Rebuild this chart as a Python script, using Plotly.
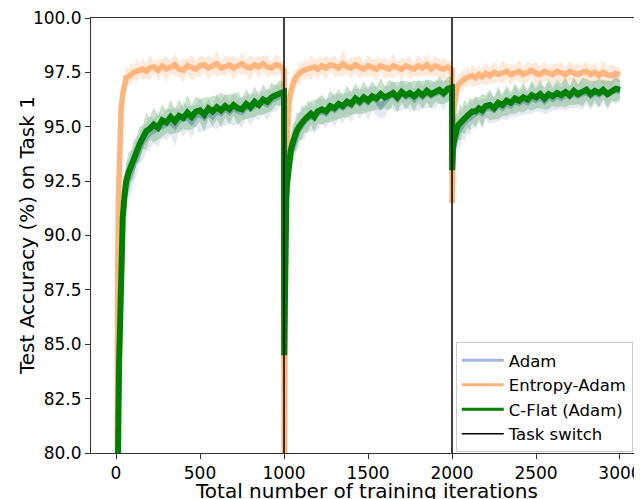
import plotly.graph_objects as go

# iteration offsets inside each task (task length 1000)
offsets = [1, 3, 6, 10, 14, 18, 24, 30, 40, 50,
           60, 75, 90, 105, 120, 140, 160, 180, 200, 225,
           250, 275, 300, 325, 350, 375, 400, 425, 450, 475,
           500, 525, 550, 575, 600, 625, 650, 675, 700, 725,
           750, 775, 800, 825, 850, 875, 900, 925, 950, 975,
           1000]
task_len = 1000
task_switches = [1000, 2000]
y_ticks = [80.0, 82.5, 85.0, 87.5, 90.0, 92.5, 95.0, 97.5, 100.0]
x_ticks = [0, 500, 1000, 1500, 2000, 2500, 3000]

# ---------- Adam ----------
adam_t1 = [70, 75, 78, 80.5, 83, 85.5, 88, 89.5, 91, 91.7,
           92.2, 92.6, 92.9, 93.2, 93.6, 94.0, 94.3, 94.5, 94.7, 94.8,
           94.9, 95.0, 95.1, 95.2, 95.0, 95.3, 95.35, 95.4, 95.2, 95.5,
           95.55, 95.4, 95.6, 95.45, 95.7, 95.6, 95.8, 95.65, 95.85, 95.7,
           95.65, 95.9, 95.8, 95.95, 96.0, 96.1, 96.0, 96.2, 96.3, 96.4,
           96.5]
adam_t2 = [84, 87, 89.2, 90.8, 91.6, 92.2, 92.8, 93.2, 93.7, 94.0,
           94.3, 94.6, 94.85, 95.05, 95.2, 95.35, 95.5, 95.4, 95.6, 95.7,
           95.6, 95.85, 95.75, 95.95, 95.85, 96.05, 95.95, 96.2, 96.05, 96.25,
           96.1, 96.3, 96.2, 95.95, 96.15, 96.35, 96.45, 96.25, 96.5, 96.35,
           96.45, 96.25, 96.5, 96.35, 96.55, 96.4, 96.5, 96.6, 96.45, 96.65,
           96.7]
adam_t3 = [92.8, 93.3, 93.7, 94.0, 94.2, 94.35, 94.5, 94.65, 94.8, 94.95,
           95.05, 95.2, 95.3, 95.4, 95.5, 95.6, 95.7, 95.6, 95.8, 95.85,
           95.75, 95.95, 95.85, 96.05, 95.95, 96.15, 96.05, 96.2, 96.1, 96.3,
           96.2, 96.35, 96.15, 96.35, 96.25, 96.4, 96.3, 96.45, 96.35, 96.5,
           96.4, 96.5, 96.55, 96.4, 96.55, 96.45, 96.6, 96.45, 96.6, 96.65,
           96.6]
adam_std_t1 = [2.0, 2.0, 2.0, 2.0, 2.0, 1.8, 1.6, 1.5, 1.3, 1.2,
               1.1, 0.9, 1.0, 0.8, 0.9, 0.7, 0.85, 0.6, 0.8, 0.55,
               0.85, 0.5, 0.75, 0.6, 0.9, 0.5, 0.8, 0.55, 0.75, 0.5,
               0.85, 0.55, 0.7, 0.5, 0.8, 0.55, 0.75, 0.5, 0.8, 0.6,
               0.7, 0.5, 0.75, 0.55, 0.7, 0.5, 0.75, 0.5, 0.65, 0.5,
               0.5]
adam_std_t2 = [2.0, 1.8, 1.6, 1.4, 1.2, 1.1, 1.0, 0.9, 0.85, 0.8,
               0.9, 0.7, 0.85, 0.6, 0.8, 0.55, 0.75, 0.5, 0.8, 0.55,
               0.7, 0.5, 0.8, 0.55, 0.7, 0.5, 0.75, 0.55, 0.7, 0.5,
               0.8, 0.5, 0.7, 0.55, 0.75, 0.5, 0.7, 0.55, 0.75, 0.5,
               0.7, 0.5, 0.75, 0.5, 0.7, 0.55, 0.65, 0.5, 0.7, 0.5,
               0.5]
adam_std_t3 = [1.3, 1.2, 1.1, 1.0, 0.95, 0.9, 0.85, 0.8, 0.75, 0.9,
               0.65, 0.85, 0.6, 0.8, 0.55, 0.75, 0.5, 0.7, 0.5, 0.75,
               0.55, 0.7, 0.5, 0.75, 0.5, 0.7, 0.55, 0.65, 0.5, 0.7,
               0.5, 0.65, 0.55, 0.7, 0.5, 0.65, 0.5, 0.7, 0.5, 0.65,
               0.5, 0.7, 0.5, 0.65, 0.5, 0.6, 0.5, 0.7, 0.5, 0.6,
               0.45]

# ---------- Entropy-Adam ----------
ent_t1 = [55, 72, 82, 88.5, 91.5, 93.3, 94.8, 95.8, 96.5, 97.0,
          97.25, 97.3, 97.45, 97.5, 97.55, 97.6, 97.65, 97.55, 97.7, 97.75,
          97.6, 97.8, 97.65, 97.75, 97.85, 97.65, 97.6, 97.8, 97.7, 97.65,
          97.8, 97.85, 97.7, 97.8, 97.9, 97.7, 97.8, 97.85, 97.7, 97.8,
          97.9, 97.75, 97.7, 97.85, 97.75, 97.9, 97.75, 97.7, 97.85, 97.8,
          97.6]
ent_t2 = [76, 84, 89, 92, 93.8, 94.8, 95.6, 96.1, 96.6, 96.9,
          97.1, 97.3, 97.45, 97.55, 97.6, 97.65, 97.7, 97.75, 97.65, 97.8,
          97.7, 97.85, 97.8, 97.7, 97.9, 97.75, 97.7, 97.85, 97.75, 97.65,
          97.8, 97.7, 97.65, 97.8, 97.7, 97.65, 97.8, 97.7, 97.65, 97.8,
          97.7, 97.65, 97.8, 97.7, 97.85, 97.65, 97.8, 97.7, 97.65, 97.75,
          97.6]
ent_t3 = [91.5, 93.5, 94.8, 95.6, 96.0, 96.3, 96.6, 96.8, 96.95, 97.05,
          97.1, 97.2, 97.25, 97.3, 97.35, 97.25, 97.4, 97.3, 97.45, 97.35,
          97.5, 97.4, 97.5, 97.55, 97.4, 97.5, 97.55, 97.4, 97.5, 97.6,
          97.45, 97.4, 97.55, 97.45, 97.4, 97.55, 97.45, 97.4, 97.55, 97.45,
          97.4, 97.5, 97.55, 97.4, 97.5, 97.35, 97.5, 97.4, 97.35, 97.45,
          97.4]
ent_std_t1 = [2.0, 2.5, 2.5, 2.0, 1.6, 1.3, 1.0, 0.8, 0.6, 0.5,
              0.55, 0.35, 0.5, 0.3, 0.55, 0.3, 0.5, 0.35, 0.6, 0.3,
              0.5, 0.35, 0.6, 0.3, 0.5, 0.35, 0.55, 0.3, 0.6, 0.35,
              0.5, 0.3, 0.55, 0.35, 0.6, 0.3, 0.5, 0.35, 0.55, 0.3,
              0.5, 0.35, 0.6, 0.3, 0.5, 0.35, 0.55, 0.3, 0.5, 0.35,
              0.4]
ent_std_t2 = [2.5, 2.5, 2.0, 1.6, 1.3, 1.0, 0.8, 0.7, 0.6, 0.55,
              0.5, 0.35, 0.55, 0.3, 0.5, 0.35, 0.6, 0.3, 0.5, 0.35,
              0.55, 0.3, 0.5, 0.35, 0.6, 0.3, 0.5, 0.35, 0.55, 0.3,
              0.5, 0.35, 0.55, 0.3, 0.5, 0.35, 0.6, 0.3, 0.5, 0.35,
              0.55, 0.3, 0.5, 0.35, 0.55, 0.3, 0.5, 0.35, 0.55, 0.3,
              0.4]
ent_std_t3 = [1.0, 0.9, 0.8, 0.7, 0.6, 0.55, 0.5, 0.45, 0.5, 0.4,
              0.5, 0.35, 0.5, 0.3, 0.55, 0.35, 0.5, 0.3, 0.55, 0.35,
              0.5, 0.3, 0.55, 0.35, 0.5, 0.3, 0.55, 0.35, 0.5, 0.3,
              0.55, 0.35, 0.5, 0.3, 0.5, 0.35, 0.55, 0.3, 0.5, 0.35,
              0.55, 0.3, 0.5, 0.35, 0.5, 0.3, 0.55, 0.35, 0.5, 0.3,
              0.35]

# ---------- C-Flat (Adam) ----------
cflat_t1 = [70, 74, 77, 79.5, 81.5, 84, 87, 88.8, 90.8, 91.8,
            92.5, 92.9, 93.2, 93.5, 93.9, 94.2, 94.5, 94.8, 94.9, 95.1,
            94.95, 95.3, 95.2, 95.45, 95.25, 95.5, 95.4, 95.65, 95.45, 95.7,
            95.75, 95.55, 95.85, 95.7, 95.9, 95.75, 95.95, 95.8, 96.0, 95.85,
            95.8, 96.05, 95.9, 96.15, 96.0, 96.25, 96.15, 96.35, 96.45, 96.55,
            96.6]
cflat_t2 = [84.5, 87.5, 89.5, 91.0, 91.8, 92.4, 93.0, 93.4, 93.9, 94.2,
            94.5, 94.8, 95.0, 95.2, 95.3, 95.45, 95.6, 95.45, 95.7, 95.8,
            95.7, 95.95, 95.85, 96.05, 95.95, 96.15, 96.05, 96.3, 96.15, 96.35,
            96.2, 96.4, 96.3, 96.5, 96.35, 96.45, 96.55, 96.35, 96.6, 96.45,
            96.55, 96.4, 96.6, 96.45, 96.65, 96.5, 96.6, 96.7, 96.55, 96.75,
            96.8]
cflat_t3 = [93.0, 93.6, 94.0, 94.3, 94.5, 94.65, 94.8, 94.95, 95.1, 95.2,
            95.3, 95.45, 95.5, 95.6, 95.7, 95.7, 95.85, 95.75, 95.95, 96.0,
            95.85, 96.1, 96.0, 96.2, 96.1, 96.3, 96.2, 96.35, 96.25, 96.45,
            96.35, 96.5, 96.3, 96.5, 96.4, 96.55, 96.45, 96.6, 96.45, 96.65,
            96.5, 96.6, 96.7, 96.5, 96.65, 96.55, 96.7, 96.5, 96.65, 96.75,
            96.7]
cflat_std_t1 = [1.5, 2.0, 2.0, 2.0, 2.0, 1.8, 1.5, 1.3, 1.1, 1.0,
                0.8, 0.95, 0.7, 0.9, 0.6, 0.8, 0.55, 0.85, 0.5, 0.8,
                0.55, 0.75, 0.5, 0.8, 0.55, 0.75, 0.5, 0.8, 0.55, 0.7,
                0.5, 0.8, 0.5, 0.7, 0.55, 0.8, 0.5, 0.7, 0.5, 0.75,
                0.5, 0.7, 0.5, 0.7, 0.45, 0.7, 0.5, 0.65, 0.45, 0.6,
                0.45]
cflat_std_t2 = [1.8, 1.6, 1.4, 1.2, 1.0, 0.9, 0.85, 0.8, 0.75, 0.9,
                0.65, 0.85, 0.6, 0.8, 0.55, 0.75, 0.5, 0.8, 0.55, 0.7,
                0.5, 0.75, 0.55, 0.7, 0.5, 0.75, 0.5, 0.7, 0.55, 0.75,
                0.5, 0.7, 0.5, 0.75, 0.5, 0.7, 0.5, 0.7, 0.5, 0.65,
                0.5, 0.7, 0.5, 0.65, 0.5, 0.65, 0.45, 0.65, 0.5, 0.6,
                0.45]
cflat_std_t3 = [1.1, 1.0, 0.95, 0.9, 0.85, 0.8, 0.75, 0.7, 0.65, 0.85,
                0.6, 0.8, 0.55, 0.75, 0.55, 0.7, 0.5, 0.75, 0.5, 0.7,
                0.5, 0.75, 0.5, 0.7, 0.5, 0.7, 0.5, 0.7, 0.45, 0.7,
                0.5, 0.65, 0.5, 0.7, 0.45, 0.65, 0.5, 0.7, 0.45, 0.65,
                0.45, 0.65, 0.5, 0.6, 0.45, 0.65, 0.45, 0.6, 0.45, 0.6,
                0.45]

# ---------- assemble ----------
iters = [k * task_len + o for k in range(3) for o in offsets]
series = [
    ("Adam", adam_t1 + adam_t2 + adam_t3, adam_std_t1 + adam_std_t2 + adam_std_t3,
     "#a4b5dc", "rgba(164,181,220,0.30)", 5),
    ("Entropy-Adam", ent_t1 + ent_t2 + ent_t3, ent_std_t1 + ent_std_t2 + ent_std_t3,
     "#fdb47d", "rgba(253,180,125,0.28)", 5.5),
    ("C-Flat (Adam)", cflat_t1 + cflat_t2 + cflat_t3, cflat_std_t1 + cflat_std_t2 + cflat_std_t3,
     "#008000", "rgba(0,128,0,0.22)", 6),
]

fig = go.Figure()
for name, mean, std, lc, bc, lw in series:
    assert len(mean) == len(iters) and len(std) == len(iters), name
    upper = [m + s for m, s in zip(mean, std)]
    lower = [m - s for m, s in zip(mean, std)]
    fig.add_trace(go.Scatter(x=iters + iters[::-1], y=upper + lower[::-1],
                             fill="toself", fillcolor=bc, line=dict(width=0),
                             mode="lines", hoverinfo="skip", showlegend=False,
                             legendgroup=name))
    # the noisy mean curve looks thick; draw it wide, keep legend sample thin
    fig.add_trace(go.Scatter(x=iters, y=mean, mode="lines", name=name,
                             line=dict(color=lc, width=lw), showlegend=False,
                             legendgroup=name))
    fig.add_trace(go.Scatter(x=[None], y=[None], mode="lines", name=name,
                             line=dict(color=lc, width=3), legendgroup=name))

y_lo, y_hi = 80, 100
sx, sy = [], []
for t in task_switches:
    sx += [t, t, None]
    sy += [y_lo, y_hi, None]
fig.add_trace(go.Scatter(x=sx, y=sy, mode="lines", name="Task switch",
                         line=dict(color="black", width=1.5)))

font = "DejaVu Sans, Liberation Sans, sans-serif"
# page body has an 8px margin, so the figure is sized/offset to compensate
fig.update_layout(
    width=634, height=491,
    margin=dict(l=83, r=0, t=6, b=46),
    plot_bgcolor="white", paper_bgcolor="white",
    font=dict(family=font, size=17, color="black"),
    showlegend=True,
    legend=dict(x=0.662, y=0.255, xanchor="left", yanchor="top",
                bgcolor="rgba(255,255,255,0.9)", bordercolor="#cccccc",
                borderwidth=1, font=dict(size=16.5), tracegroupgap=0,
                itemwidth=42),
    xaxis=dict(range=[-149, 3131], tickvals=x_ticks,
               showgrid=False, zeroline=False, showline=True, linecolor="#333333",
               linewidth=1, mirror=True, ticks="outside", ticklen=5, tickcolor="#333333",
               tickfont=dict(size=17), ticklabeloverflow="allow"),
    yaxis=dict(range=[y_lo, y_hi], tickvals=y_ticks, tickformat=".1f",
               showgrid=False, zeroline=False, showline=True, linecolor="#333333",
               linewidth=1, ticks="outside", ticklen=5, tickcolor="#333333",
               tickfont=dict(size=17), ticklabeloverflow="allow"),
    annotations=[
        dict(text="Test Accuracy (%) on Task 1", xref="paper", yref="paper",
             x=-0.117, y=0.5, xanchor="center", yanchor="middle", textangle=-90,
             showarrow=False, font=dict(size=20)),
        dict(text="Total number of training iterations", xref="paper", yref="paper",
             x=0.5, y=-0.087, xanchor="center", yanchor="middle",
             showarrow=False, font=dict(size=20)),
    ],
)

fig.write_html("out.html")
